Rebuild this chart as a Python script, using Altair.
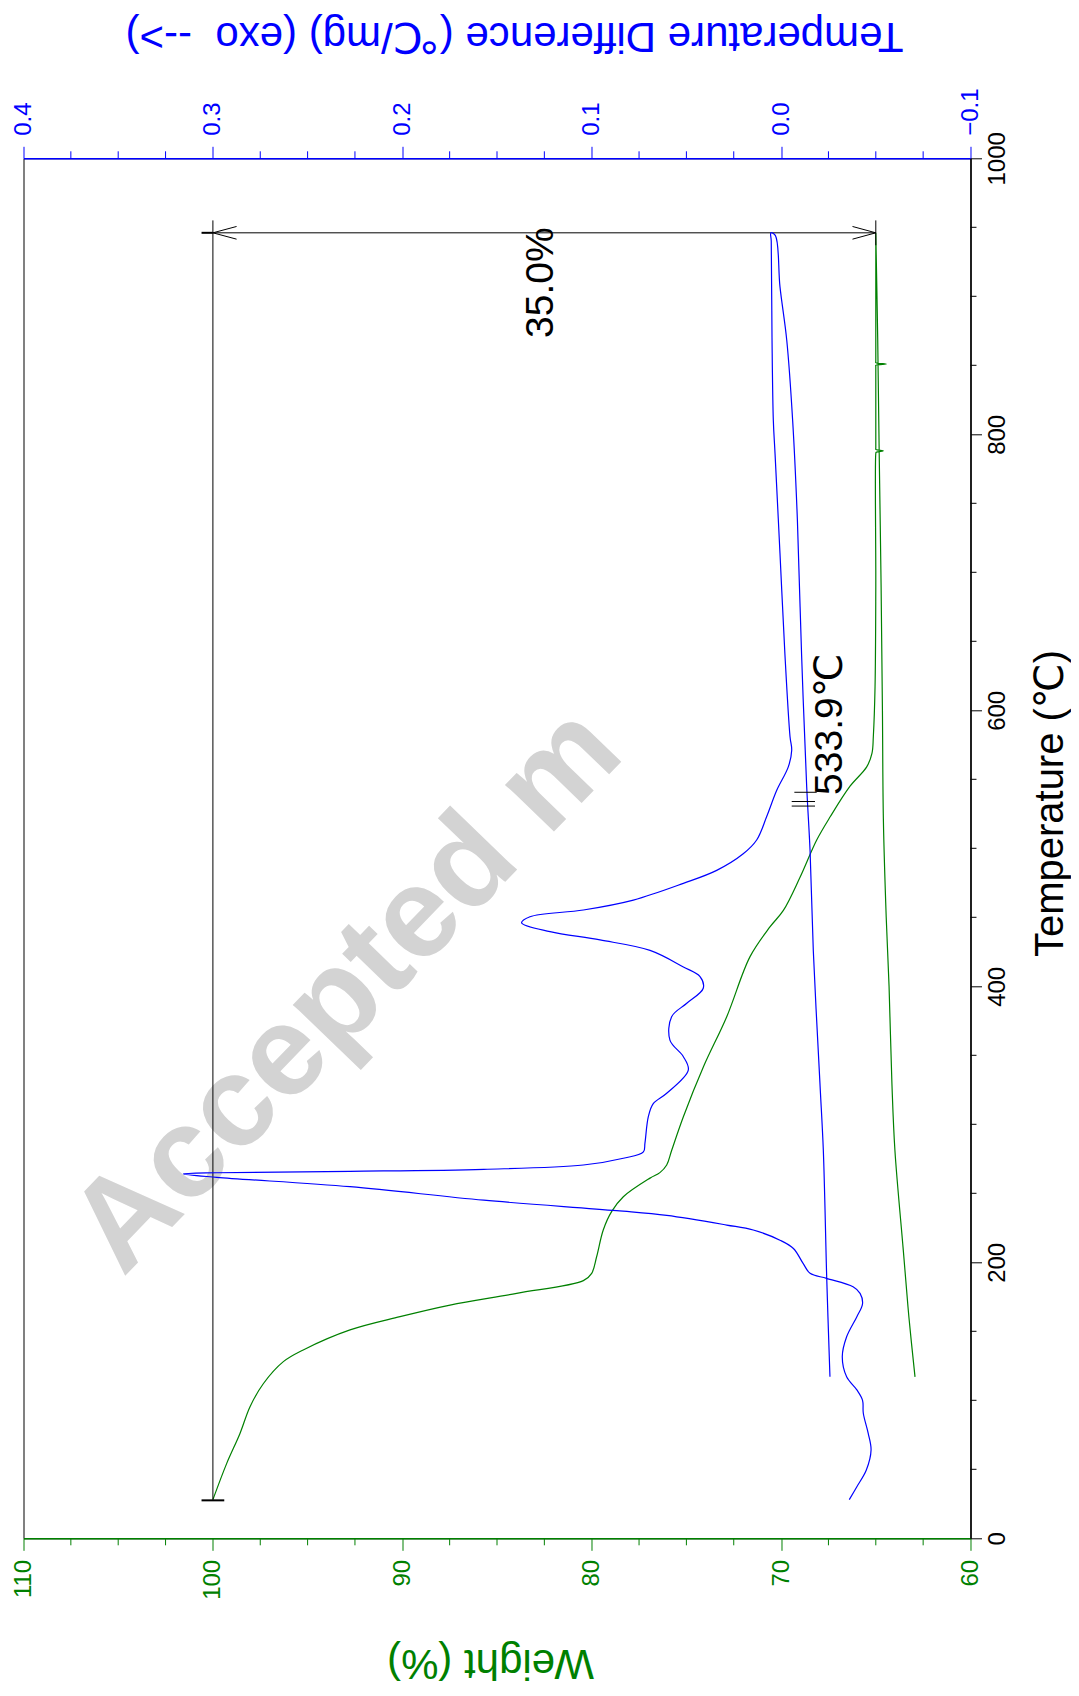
import altair as alt
import pandas as pd

# ---------------- data ----------------
# TG (weight %) heating run
tg_heat_T = [28, 54.3, 76, 95.4, 112, 128, 136.5, 151, 160.6, 169, 177.5, 186.7, 192, 204,
             223.4, 236.7, 247.5, 261, 265, 270.5, 281, 305.5, 341.7, 378, 421.5, 443, 455,
             479, 506, 523, 545, 559, 569, 581, 617, 690, 786, 787, 788, 789, 790,
             849, 850, 851, 852, 853, 946]
tg_heat_W = [100.0, 99.27, 98.57, 98.04, 97.34, 96.28, 95.23, 92.76, 90.12, 87.48, 83.96, 80.44,
             80.0, 79.74, 79.39, 78.95, 78.33, 76.92, 76.4, 76.04, 75.78, 75.16, 74.1, 72.87,
             71.64, 70.59, 69.88, 69.0, 68.12, 67.4, 66.36, 65.48, 65.2, 65.13, 65.04, 65.0,
             65.0, 64.98, 64.6, 65.0, 65.0,
             65.0, 65.0, 64.44, 65.0, 65.0, 65.0]
# TG cooling run
tg_cool_T = [946, 870, 786, 690, 600, 521, 450, 400, 330, 281, 209, 160, 117]
tg_cool_W = [65.0, 64.9, 64.82, 64.72, 64.65, 64.6, 64.45, 64.3, 64.15, 63.99, 63.55, 63.25, 62.93]

# DTA heating run
dta_heat_T = [28, 37.4, 49.5, 64, 76, 90.6, 100, 107.5, 117, 131.6, 146, 160.6, 170, 177.5, 182.3,
              188.4, 192, 199, 210, 216, 223.4, 227, 234, 237.4, 245, 254.8, 261.6, 264, 264.9,
              265.9, 267.4, 270.5, 275.4, 280, 286.2, 305.5, 315, 322.5, 339.3, 349, 361, 378,
              387.7, 398.6, 407, 414, 426, 433.6, 439.6, 446, 450.4, 455.3, 462.5, 474.6, 484,
              496, 506, 523, 542, 559, 571, 581, 641, 714, 786, 810, 870, 940, 946]
dta_heat_V = [-0.036, -0.040, -0.045, -0.0475, -0.046, -0.0434, -0.043, -0.040, -0.0346, -0.0323,
              -0.0346, -0.040, -0.043, -0.0417, -0.038, -0.024, -0.0153, -0.0117, -0.0065, 0.0006,
              0.0147, 0.0287, 0.0604, 0.0868, 0.157, 0.2276, 0.298, 0.3156, 0.298, 0.2276,
              0.157, 0.1044, 0.0833, 0.0727, 0.0719, 0.0701, 0.0675, 0.0604, 0.049, 0.0516,
              0.0587, 0.0578, 0.0498, 0.0411, 0.0428, 0.0516, 0.0692, 0.0956, 0.122, 0.137,
              0.1326, 0.1044, 0.078, 0.0516, 0.034, 0.02, 0.0129, 0.0076, 0.0023, -0.0038,
              -0.0056, -0.0047, -0.002, 0.0006, 0.0032, 0.0041, 0.0048, 0.0052, 0.0054]
# DTA cooling run
dta_cool_T = [944, 907, 868, 810, 738, 641, 545, 498, 426, 330, 281, 188, 117]
dta_cool_V = [0.0030, 0.0006, -0.0030, -0.0061, -0.0086, -0.0108, -0.0135, -0.0153, -0.0170,
              -0.0205, -0.0223, -0.0241, -0.0258]

# axis ticks
weight_ticks = [110, 100, 90, 80, 70, 60]
weight_minor = [107.5, 105, 102.5, 97.5, 95, 92.5, 87.5, 85, 82.5, 77.5, 75, 72.5, 67.5, 65, 62.5]
dta_ticks = [0.4, 0.3, 0.2, 0.1, 0.0, -0.1]
dta_minor = [0.375, 0.35, 0.325, 0.275, 0.25, 0.225, 0.175, 0.15, 0.125, 0.075, 0.05, 0.025,
             -0.025, -0.05, -0.075]
temp_ticks = [0, 200, 400, 600, 800, 1000]
temp_minor = [50, 100, 150, 250, 300, 350, 450, 500, 550, 650, 700, 750, 850, 900, 950]

# weight-loss annotation (arrow 100 % -> 65 % at 946 C)
seg_w1 = [100, 100, 100.6, 100.6, 100, 100, 65, 65, 65]
seg_w2 = [65, 100, 99.4, 100, 98.75, 98.75, 66.23, 66.23, 65]
seg_t1 = [946, 955, 27.5, 946, 946, 946, 946, 946, 955]
seg_t2 = [946, 28, 27.5, 946, 950.6, 941.4, 950.6, 941.4, 937]
seg_sw = [1, 1, 2, 2, 1, 1, 1, 1, 1]

# 533.9 C marker on DTA
mk_d1 = [-0.0070, -0.0056, -0.0056]
mk_d2 = [-0.0188, -0.0179, -0.0179]
mk_t = [540.6, 533.9, 530.6]

# text labels
lab35 = {"w": [82.7], "t": [869.8], "s": ["35.0%"]}
lab533 = {"d": [-0.0258], "t": [538.7], "s": ["533.9℃"]}
wmark = {"w": [104.75], "t": [188.6], "s": ["Accepted m"]}

# ---------------- tables ----------------
df_tg = pd.DataFrame({"t": tg_heat_T + tg_cool_T, "w": tg_heat_W + tg_cool_W})
df_tg["i"] = range(len(df_tg))
df_dta = pd.DataFrame({"t": dta_heat_T + dta_cool_T, "d": dta_heat_V + dta_cool_V})
df_dta["i"] = range(len(df_dta))
df_seg = pd.DataFrame({"w1": seg_w1, "w2": seg_w2, "t1": seg_t1, "t2": seg_t2, "sw": seg_sw})
df_mk = pd.DataFrame({"d1": mk_d1, "d2": mk_d2, "t": mk_t})

W, H = 947, 1380
FONT = "Liberation Sans, Arial, DejaVu Sans"
GREEN = "#008000"
BLUE = "#0000ff"

WS = alt.Scale(domain=[110, 60], nice=False, zero=False)
DS = alt.Scale(domain=[0.4, -0.1], nice=False, zero=False)
TS = alt.Scale(domain=[0, 1000], nice=False, zero=False)

bottom_axis = alt.Axis(
    orient="bottom", values=weight_ticks, format="d", title="Weight (%)",
    labelAngle=270, labelAlign="right", labelBaseline="middle", labelPadding=9,
    labelFontSize=24, labelFont=FONT, labelColor=GREEN, labelFlush=False, labelOverlap=False,
    tickColor=GREEN, tickSize=12, tickWidth=1, domainColor=GREEN, domainWidth=1.5,
    titleColor=GREEN, titleFont=FONT, titleFontSize=42, titleFontWeight="normal",
    titleAngle=180, titleX=466.5, titleY=124.7, titleAlign="center", titleBaseline="middle",
    grid=False)

top_axis = alt.Axis(
    orient="top", values=dta_ticks, format=".1f",
    title="Temperature Difference (℃/mg) (exo\u00a0 -->)",
    labelAngle=270, labelAlign="left", labelBaseline="middle", labelPadding=11,
    labelFontSize=24, labelFont=FONT, labelColor=BLUE, labelFlush=False, labelOverlap=False,
    tickColor=BLUE, tickSize=12, tickWidth=1, domainColor=BLUE, domainWidth=1.5,
    titleColor=BLUE, titleFont=FONT, titleFontSize=42, titleFontWeight="normal",
    titleAngle=180, titleX=490.5, titleY=-122.3, titleAlign="center", titleBaseline="middle",
    grid=False)

right_axis = alt.Axis(
    orient="right", values=temp_ticks, format="d", title="Temperature (℃)",
    labelAngle=270, labelAlign="center", labelBaseline="top", labelPadding=4,
    labelFontSize=24, labelFont=FONT, labelColor="black", labelFlush=False, labelOverlap=False,
    tickColor="black", tickSize=11, tickWidth=1, domainColor="black", domainWidth=1.5,
    titleColor="black", titleFont=FONT, titleFontSize=40, titleFontWeight="normal",
    titleAngle=270, titleX=80, titleY=644.7, titleAlign="center", titleBaseline="middle",
    grid=False)


def Y(field):
    # identical axis spec in every layer so the shared y axis merges cleanly
    return alt.Y(field, scale=TS, axis=right_axis)


wm = alt.Chart(pd.DataFrame(wmark)).mark_text(
    angle=314, align="left", baseline="alphabetic", font=FONT, fontWeight="bold",
    fontSize=128, color="#d3d3d3"
).encode(x=alt.X("w:Q", scale=WS, axis=None), y=Y("t:Q"), text="s:N")

tg = alt.Chart(df_tg).mark_line(color=GREEN, strokeWidth=1.2, interpolate="catmull-rom").encode(
    x=alt.X("w:Q", scale=WS, axis=bottom_axis),
    y=Y("t:Q"),
    order="i:Q")

ann = alt.Chart(df_seg).mark_rule(color="black").encode(
    x=alt.X("w1:Q", scale=WS, axis=None), x2="w2:Q",
    y=Y("t1:Q"), y2="t2:Q",
    strokeWidth=alt.StrokeWidth("sw:Q", scale=None))

t35 = alt.Chart(pd.DataFrame(lab35)).mark_text(
    angle=270, align="left", baseline="middle", font=FONT, fontSize=39, color="black"
).encode(x=alt.X("w:Q", scale=WS, axis=None), y=Y("t:Q"), text="s:N")

wminor = alt.Chart(pd.DataFrame({"v": weight_minor})).mark_rule(color=GREEN, strokeWidth=1).encode(
    x=alt.X("v:Q", scale=WS, axis=None), y=alt.value(H), y2=alt.value(H + 7))

tminor = alt.Chart(pd.DataFrame({"v": temp_minor})).mark_rule(color="black", strokeWidth=1).encode(
    y=Y("v:Q"), x=alt.value(W), x2=alt.value(W + 6))

dta = alt.Chart(df_dta).mark_line(color=BLUE, strokeWidth=1.2, interpolate="catmull-rom").encode(
    x=alt.X("d:Q", scale=DS, axis=top_axis),
    y=Y("t:Q"),
    order="i:Q")

mk = alt.Chart(df_mk).mark_rule(color="black", strokeWidth=1).encode(
    x=alt.X("d1:Q", scale=DS, axis=None), x2="d2:Q",
    y=Y("t:Q"))

t533 = alt.Chart(pd.DataFrame(lab533)).mark_text(
    angle=270, align="left", baseline="middle", font=FONT, fontSize=39, color="black"
).encode(x=alt.X("d:Q", scale=DS, axis=None), y=Y("t:Q"), text="s:N")

dminor = alt.Chart(pd.DataFrame({"v": dta_minor})).mark_rule(color=BLUE, strokeWidth=1).encode(
    x=alt.X("v:Q", scale=DS, axis=None), y=alt.value(0), y2=alt.value(-7))

chart = alt.layer(wm, tg, ann, t35, wminor, tminor, dta, mk, t533, dminor).resolve_scale(
    x="independent", y="shared").resolve_axis(x="independent", y="shared").properties(
    width=W, height=H,
    padding={"left": 15.5, "top": 150.3, "right": 100.5, "bottom": 150},
    autosize=alt.AutoSizeParams(type="none"),
    background="white",
).configure_view(stroke="black", strokeWidth=1)

chart.save("out.html", embed_options={"renderer": "svg", "actions": False})
